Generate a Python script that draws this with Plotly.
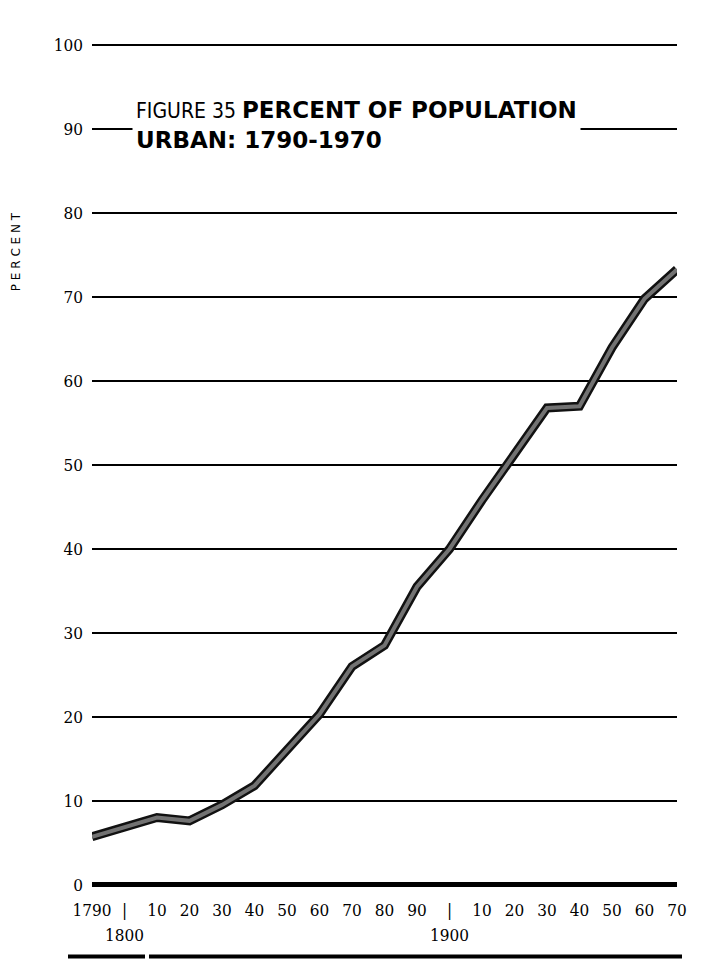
import plotly.graph_objects as go

# ---- data ----
years = [1790, 1800, 1810, 1820, 1830, 1840, 1850, 1860, 1870, 1880,
         1890, 1900, 1910, 1920, 1930, 1940, 1950, 1960, 1970]
percent_urban = [5.7, 6.8, 8.0, 7.6, 9.5, 11.8, 16.0, 20.3, 26.0, 28.5,
                 35.5, 40.0, 45.8, 51.2, 56.8, 57.0, 64.0, 69.8, 73.3]

x_tickvals = list(range(1790, 1971, 10))
x_ticktext = ["1790", "|", "10", "20", "30", "40", "50", "60", "70", "80", "90",
              "|", "10", "20", "30", "40", "50", "60", "70"]
century_labels = ["1800", "1900"]
century_years = [1800, 1900]
y_tickvals = list(range(0, 101, 10))

# page has an 8px body margin; target page coordinates below
OFF = 8
W, H = 702 - OFF, 959 - OFF
PL, PR, PT, PB = 92, 677, 41.6, 888.4   # plot area in page px
PH = PB - PT

def py(page_y):
    return (PB - page_y) / PH

def px(page_x):
    return (page_x - PL) / (PR - PL)

tick_font = dict(family="Liberation Sans Narrow, DejaVu Serif Condensed, sans-serif",
                 size=17, color="black")

fig = go.Figure()
fig.add_trace(go.Scatter(x=years, y=percent_urban, mode="lines",
                         line=dict(color="#111111", width=9), cliponaxis=False,
                         hoverinfo="skip", showlegend=False))
fig.add_trace(go.Scatter(x=years, y=percent_urban, mode="lines",
                         line=dict(color="#727272", width=4), cliponaxis=False,
                         showlegend=False))

annotations = []
annotations.append(dict(
    xref="paper", yref="paper", x=px(132), y=py(93),
    xanchor="left", yanchor="top", align="left", showarrow=False,
    bgcolor="white", borderpad=3,
    text=("<span style='font-weight:normal;font-family:DejaVu Sans Condensed;font-size:21px'>FIGURE 35 </span>"
          "<b>PERCENT OF POPULATION</b><br><b>URBAN: 1790-1970</b>"),
    font=dict(family="DejaVu Sans, Arial, sans-serif", size=23, color="black"),
))
annotations.append(dict(
    xref="paper", yref="paper", x=px(16), y=py(252),
    xanchor="center", yanchor="middle", showarrow=False, textangle=-90,
    text="P E R C E N T",
    font=dict(family="DejaVu Sans, sans-serif", size=12, color="black"),
))
for lbl, yr in zip(century_labels, century_years):
    annotations.append(dict(
        xref="x", yref="paper", x=yr, y=py(935),
        xanchor="center", yanchor="middle", showarrow=False,
        text=lbl, font=tick_font,
    ))

yb = py(957)
shapes = [
    dict(type="line", xref="paper", yref="paper", x0=px(68), x1=px(145),
         y0=yb, y1=yb, line=dict(color="black", width=4)),
    dict(type="line", xref="paper", yref="paper", x0=px(149), x1=px(682),
         y0=yb, y1=yb, line=dict(color="black", width=4)),
]

fig.update_layout(
    width=W, height=H,
    margin=dict(l=PL - OFF, r=W - (PR - OFF), t=PT - OFF, b=H - (PB - OFF)),
    paper_bgcolor="white", plot_bgcolor="white",
    annotations=annotations, shapes=shapes,
    xaxis=dict(range=[1790, 1970], tickvals=x_tickvals, ticktext=x_ticktext,
               showgrid=False, zeroline=False, showline=False, ticks="",
               tickfont=tick_font, ticklabelstandoff=10, fixedrange=True),
    yaxis=dict(range=[-0.4, 100.4], tickvals=y_tickvals,
               showgrid=True, gridcolor="black", gridwidth=2,
               zeroline=True, zerolinecolor="black", zerolinewidth=5,
               showline=False, ticks="", tickfont=tick_font,
               ticklabelstandoff=8, fixedrange=True),
)

fig.write_html("out.html")
